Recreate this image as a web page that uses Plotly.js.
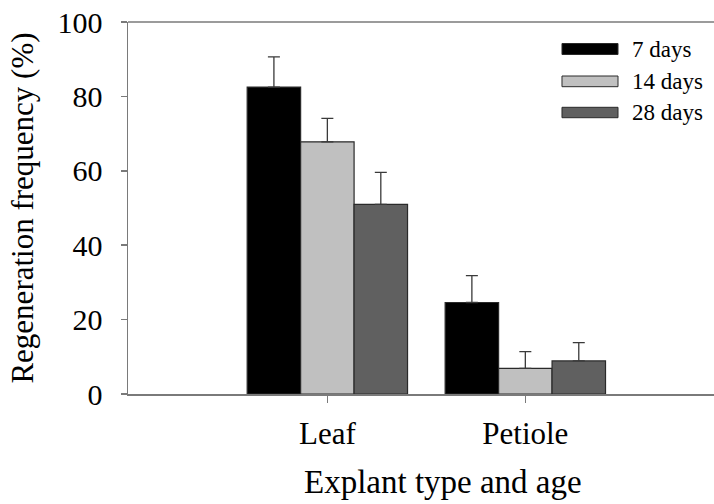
<!DOCTYPE html>
<html>
<head>
<meta charset="utf-8">
<script src="https://cdn.plot.ly/plotly-3.0.1.min.js"></script>
<style>
  html, body { margin: 0; padding: 0; background: #ffffff; }
  #chart { width: 714px; height: 504px; }
</style>
</head>
<body>
<div id="chart"></div>
<script>
// Explant types on the x axis
const explants = ['Leaf', 'Petiole'];

// Series names (age of explant)
const seriesNames = ['7 days', '14 days', '28 days'];

// Regeneration frequency (%) per series, in explant order
const days7 = [82.5, 24.6];
const days14 = [67.8, 6.9];
const days28 = [51.0, 8.9];

// Upper error (standard error) per series
const err7 = [8.1, 7.2];
const err14 = [6.3, 4.5];
const err28 = [8.6, 4.9];

// Tick values for the y axis
const yTicks = [0, 20, 40, 60, 80, 100];

const fillColors = ['#000000', '#c0c0c0', '#606060'];
const values = [days7, days14, days28];
const errors = [err7, err14, err28];

const FONT = "'Liberation Serif', 'Times New Roman', serif";
const AXIS_GRAY = '#7a7a7a';

const traces = values.map((v, i) => ({
  type: 'bar',
  name: seriesNames[i],
  x: explants,
  y: v,
  showlegend: false,
  marker: { color: fillColors[i], line: { color: '#2a2a2a', width: 1.2 } },
  error_y: {
    type: 'data',
    symmetric: false,
    array: errors[i],
    arrayminus: errors[i].map(() => 0),
    color: '#3a3a3a',
    thickness: 1.3,
    width: 6
  },
  hoverinfo: 'x+y+name'
}));

// Hand-built legend with wide swatches in the upper right
const shapes = [];
const notes = [];
const swatchX0 = 0.7406, swatchX1 = 0.8362, textX = 0.8567;
const rowTop = [0.9422, 0.8548, 0.7707];
const rowBot = [0.9126, 0.8261, 0.7427];
seriesNames.forEach((name, i) => {
  shapes.push({
    type: 'rect', xref: 'paper', yref: 'paper',
    x0: swatchX0, x1: swatchX1, y0: rowBot[i], y1: rowTop[i],
    fillcolor: fillColors[i], line: { color: '#2a2a2a', width: 1 }
  });
  notes.push({
    xref: 'paper', yref: 'paper', x: textX, y: (rowTop[i] + rowBot[i]) / 2,
    xanchor: 'left', yanchor: 'middle', showarrow: false,
    text: name, font: { family: FONT, size: 23, color: '#000000' }
  });
});

// Top frame line of the plot area
shapes.push({
  type: 'line', xref: 'paper', yref: 'paper',
  x0: 0, x1: 1, y0: 1, y1: 1,
  line: { color: AXIS_GRAY, width: 1.5 }
});

// x-axis title, centred on the full frame that runs past the right edge
notes.push({
  xref: 'paper', yref: 'paper', x: 0.5375, y: -0.2366,
  xanchor: 'center', yanchor: 'middle', showarrow: false,
  text: 'Explant type and age', font: { family: FONT, size: 33, color: '#000000' }
});

const layout = {
  width: 714,
  height: 504,
  margin: { l: 128, r: 0, t: 22, b: 110, pad: 0 },
  paper_bgcolor: '#ffffff',
  plot_bgcolor: '#ffffff',
  barmode: 'group',
  bargap: 0.19,
  bargroupgap: 0,
  font: { family: FONT, color: '#000000' },
  xaxis: {
    type: 'category',
    range: [-1.007, 1.953],
    showline: true,
    linecolor: AXIS_GRAY,
    linewidth: 1.5,
    ticks: 'outside',
    ticklen: 7,
    tickwidth: 1.5,
    tickcolor: AXIS_GRAY,
    showgrid: false,
    zeroline: false,
    tickfont: { family: FONT, size: 31, color: '#000000' },
    ticklabelstandoff: 4
  },
  yaxis: {
    range: [0, 100],
    tickvals: yTicks,
    ticktext: yTicks.map(String),
    showline: true,
    linecolor: AXIS_GRAY,
    linewidth: 1.5,
    ticks: 'outside',
    ticklen: 6,
    tickwidth: 1.5,
    tickcolor: AXIS_GRAY,
    showgrid: false,
    zeroline: false,
    tickfont: { family: FONT, size: 30, color: '#000000' },
    ticklabelstandoff: 12,
    title: { text: 'Regeneration frequency (%)', font: { family: FONT, size: 31, color: '#000000' }, standoff: 14 }
  },
  shapes: shapes,
  annotations: notes,
  showlegend: false
};

Plotly.newPlot('chart', traces, layout, { displayModeBar: false, staticPlot: true });
</script>
</body>
</html>
